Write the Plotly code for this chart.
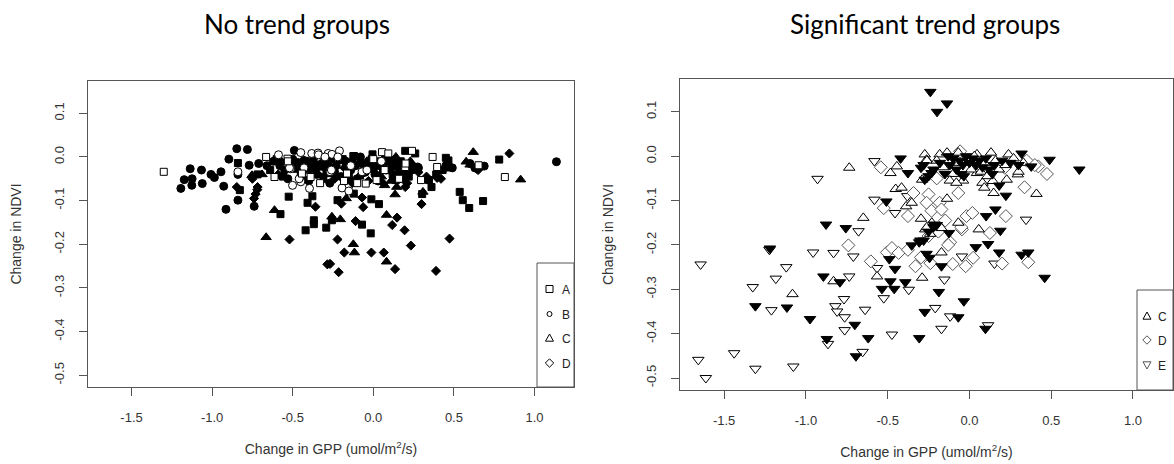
import plotly.graph_objects as go

W, H = 1174, 464

# ---------------- DATA : left panel "No trend groups" ----------------
# A : squares (open / filled)
left_A_open_x = [-1.30, -0.665, -0.613, -0.532, -0.389, -0.443, -0.182, -0.163, 0.054, 0.093, 0.240, 0.198,
                 0.296, 0.368, 0.396, 0.816, 0.653, 0.02, -0.047, -0.53, -0.10, 0.00, 0.07, 0.16, 0.20, -0.33]
left_A_open_y = [-0.034, 0.0, -0.046, -0.004, -0.046, -0.038, -0.055, -0.038, 0.011, 0.008, 0.014, -0.023,
                 -0.053, 0.0, -0.023, -0.046, -0.019, -0.053, -0.061, -0.01, -0.06, -0.005, -0.03, -0.05, -0.015, -0.06]
left_A_fill_x = [-0.840, -0.828, -0.718, -0.576, -0.525, -0.420, -0.408, -0.378, -0.369, -0.369, -0.292, -0.257,
                 -0.222, -0.121, -0.070, -0.016, -0.012, 0.035, 0.198, 0.303, 0.345, 0.361, 0.450, 0.466, 0.536,
                 0.555, 0.595, 0.681, 0.781, -0.124, -0.005, 0.163, 0.140,
                 -0.60, -0.52, -0.45, -0.37, -0.31, -0.25, -0.19, -0.15, -0.12, -0.06, -0.01, 0.02, 0.06, 0.09,
                 0.12, 0.17, 0.22, 0.26, -0.64, -0.56, 0.43, 0.39,
                 -0.48, -0.40, -0.28, -0.17, -0.08, 0.04, 0.14, 0.24]
left_A_fill_y = [-0.014, -0.076, -0.040, -0.131, -0.091, -0.168, -0.105, -0.090, -0.145, -0.154, -0.162, -0.145,
                 -0.099, -0.084, -0.155, -0.175, -0.097, -0.108, 0.014, -0.085, -0.053, -0.069, -0.002, -0.008, -0.080,
                 -0.099, -0.117, -0.101, -0.006, 0.002, 0.006, -0.023, -0.053,
                 -0.005, -0.015, -0.040, -0.005, -0.045, -0.025, -0.005, -0.050, 0.002, -0.025, -0.005, -0.045, -0.030, 0.0,
                 -0.040, -0.010, -0.045, 0.008, -0.030, -0.045, -0.030, -0.040,
                 -0.012, -0.028, -0.015, -0.022, -0.012, -0.010, -0.020, -0.022]
# B : circles (open / filled)
left_B_open_x = [-0.588, -0.45, -0.382, -0.343, -0.28, -0.21, -0.257, -0.501, -0.45, -0.396, -0.84, -0.513,
                 -0.194, -0.152, -0.07, -0.268, -0.34, -0.30, -0.26, -0.22, -0.14, -0.04, 0.05, -0.43, -0.52, -0.46]
left_B_open_y = [0.005, 0.01, 0.008, 0.009, 0.008, 0.014, 0.006, -0.065, -0.057, -0.072, -0.034, -0.027,
                 -0.071, -0.078, -0.034, -0.034, 0.005, 0.0, -0.03, 0.0, -0.02, -0.03, -0.01, -0.025, -0.025, -0.05]
left_B_fill_x = [-1.194, -1.173, -1.136, -1.124, -1.126, -1.066, -1.061, -1.007, -0.986, -0.945, -0.928, -0.914,
                 -0.896, -0.847, -0.781, -0.770, -0.840, -0.739, -0.840, -0.711, -0.49, 1.136, 0.688, 0.275,
                 -0.62, -0.58, -0.55, -0.50, -0.47, -0.44, -0.41, -0.38, -0.35, -0.32, -0.29, -0.26, -0.23, -0.20,
                 -0.17, -0.14, -0.11, -0.08, -0.05, -0.02, 0.01, 0.04, 0.07, 0.10, 0.13, 0.16, 0.20, 0.24, -0.53,
                 -0.40, -0.27, -0.10, 0.03, 0.18, 0.45, 0.49, 0.60, 0.63,
                 -0.66, -0.43, -0.36, -0.24, -0.13, -0.03, 0.08, 0.12, 0.21, 0.28]
left_B_fill_y = [-0.072, -0.052, -0.027, -0.050, -0.065, -0.030, -0.061, -0.040, -0.047, -0.034, -0.067, -0.120,
                 -0.005, 0.019, 0.017, -0.019, -0.099, -0.113, -0.040, -0.015, 0.015, -0.011, -0.021, -0.023,
                 -0.010, -0.020, -0.030, -0.005, -0.020, -0.035, -0.010, -0.025, -0.040, -0.015, -0.030, -0.005, -0.020, -0.045,
                 -0.010, -0.030, -0.020, 0.0, -0.035, -0.015, -0.040, -0.020, -0.005, -0.030, -0.015, -0.040, -0.020, -0.030, -0.050,
                 -0.055, -0.060, -0.050, -0.055, -0.050, -0.020, -0.025, -0.015, -0.025,
                 -0.020, -0.008, -0.018, -0.035, -0.012, -0.025, -0.030, -0.008, -0.035, -0.025]
# C : triangles (filled)
left_C_fill_x = [-0.665, -0.753, -0.613, -0.310, -0.257, -0.205, -0.168, -0.124, -0.117, 0.082, 0.082, 0.135,
                 0.145, 0.308, 0.620, 0.576, 0.914, 0.466, 0.140, 0.070,
                 -0.57, -0.48, -0.42, -0.33, -0.28, -0.21, -0.16, -0.09, -0.04, 0.0, 0.05, 0.08, 0.11, 0.15, 0.19,
                 0.23, 0.45, 0.60, -0.69]
left_C_fill_y = [-0.184, -0.042, -0.122, -0.053, -0.137, -0.143, -0.095, -0.200, -0.219, -0.240, -0.133, -0.086,
                 -0.069, -0.080, 0.011, -0.011, -0.052, -0.027, 0.0, -0.065,
                 -0.010, -0.030, -0.015, -0.025, -0.040, -0.010, -0.035, -0.045, -0.010, -0.030, -0.045, -0.015, -0.055, -0.025, -0.035,
                 -0.010, -0.020, -0.018, -0.040]
# D : diamonds (filled)
left_D_fill_x = [-0.520, -0.359, -0.285, -0.268, -0.215, -0.222, -0.180, -0.110, -0.063, -0.070, -0.012, 0.065,
                 0.117, 0.147, 0.135, 0.194, 0.233, 0.299, 0.396, 0.389, 0.473, 0.844, 0.641, 0.198, -0.718,
                 -0.847, -0.198,
                 -0.59, -0.51, -0.43, -0.36, -0.30, -0.24, -0.18, -0.13, -0.07, -0.03, 0.02, 0.06, 0.10, 0.14,
                 0.21, 0.28, 0.33, 0.42, -0.75, -0.73, -0.74, -0.72, 0.65]
left_D_fill_y = [-0.189, -0.114, -0.246, -0.245, -0.264, -0.189, -0.219, -0.147, -0.115, -0.093, -0.219, -0.219,
                 -0.156, -0.139, -0.257, -0.168, -0.203, -0.108, -0.048, -0.261, -0.187, 0.008, -0.027, -0.069, -0.069,
                 -0.069, -0.107,
                 -0.040, -0.025, -0.050, -0.030, -0.005, -0.050, -0.025, -0.060, -0.040, -0.055, -0.020, -0.060, -0.010, -0.050,
                 -0.060, -0.035, -0.045, -0.050, -0.050, -0.085, -0.095, -0.075, -0.030]

# ---------------- DATA : right panel "Significant trend groups" ----------------
right_C_x = [-0.735, -1.082, -0.649, -0.831, -0.483, -0.444, -0.451, -0.415, -0.387, -0.353, -0.289, -0.296,
             -0.273, -0.262, -0.289, -0.182, -0.137, -0.068, 0.046, 0.132, 0.239, 0.046, 0.080, 0.091, 0.143,
             0.148, 0.228, 0.296, 0.410, -0.137, -0.171, -0.171, -0.068, 0.057, -0.565, -0.039,
             -0.26, -0.20, -0.16, -0.10, -0.07, -0.03, 0.01, 0.03, 0.07, 0.09, 0.11, 0.16, 0.18, 0.22, 0.27,
             0.30, 0.33, -0.12, -0.08, -0.27, -0.24, -0.23, -0.26]
right_C_y = [-0.026, -0.311, -0.139, -0.282, -0.038, -0.023, -0.074, -0.071, -0.113, -0.105, -0.274, -0.141,
             0.004, -0.008, -0.053, 0.004, 0.008, 0.008, 0.004, 0.008, 0.004, -0.038, -0.060, -0.071, -0.056,
             -0.083, -0.053, -0.041, -0.085, -0.096, -0.162, -0.217, -0.150, -0.165, -0.271, -0.055,
             -0.010, -0.010, -0.025, -0.040, -0.015, -0.010, -0.030, 0.0, -0.035, -0.015, -0.045, -0.010, -0.030, -0.020, -0.005,
             -0.035, -0.015, -0.055, -0.060, -0.165, -0.175, -0.150, -0.160]
right_D_x = [-0.542, -0.740, -0.603, -0.524, -0.505, -0.474, -0.433, -0.376, -0.342, -0.376, -0.330, -0.296,
             -0.250, -0.262, -0.232, -0.239, -0.182, -0.171, -0.148, -0.118, -0.102, -0.068, -0.046, -0.023,
             -0.018, 0.018, 0.023, 0.125, 0.200, 0.223, 0.216, 0.337, 0.360, 0.421, 0.474, -0.057,
             -0.25, -0.19, -0.13, -0.05, 0.35, 0.40, -0.20]
right_D_y = [-0.025, -0.201, -0.237, -0.117, -0.217, -0.207, -0.218, -0.211, -0.083, -0.135, -0.248, -0.228,
             -0.086, -0.105, -0.123, -0.241, -0.105, -0.120, -0.145, -0.194, -0.243, -0.083, -0.165, -0.248,
             -0.135, -0.128, -0.229, -0.173, -0.242, -0.135, -0.026, -0.070, -0.239, -0.023, -0.040, 0.011,
             -0.180, -0.170, -0.200, -0.160, -0.010, -0.020, -0.050]
right_E_open_x = [-1.644, -1.658, -1.612, -1.439, -1.309, -1.325, -1.211, -1.184, -1.120, -1.077, -1.223, -0.929,
                  -0.956, -0.865, -0.831, -0.820, -0.809, -0.767, -0.763, -0.763, -0.735, -0.710, -0.678, -0.653,
                  -0.638, -0.581, -0.581, -0.565, -0.524, -0.474, -0.455, -0.371, -0.380, -0.209, -0.171, -0.153,
                  -0.118, 0.114, 0.153, 0.346, -0.046]
right_E_open_y = [-0.244, -0.459, -0.500, -0.444, -0.479, -0.295, -0.347, -0.276, -0.250, -0.474, -0.211, -0.051,
                  -0.217, -0.423, -0.218, -0.338, -0.350, -0.322, -0.363, -0.392, -0.271, -0.226, -0.169, -0.441,
                  -0.346, -0.098, -0.011, -0.252, -0.320, -0.402, -0.128, -0.301, -0.090, -0.342, -0.389, -0.278,
                  -0.361, -0.381, -0.242, -0.143, -0.226]
right_E_fill_x = [-0.239, -0.198, -0.137, -0.421, -0.376, -0.296, -0.273, -0.232, -0.034, 0.319, 0.378, 0.490,
                  0.672, 0.182, 0.223, 0.159, 0.102, 0.189, 0.114, 0.039, 0.182, 0.319, 0.360, 0.460, -0.034,
                  -0.068, 0.098, -0.187, -0.273, -0.307, -0.171, -0.244, -0.262, -0.125, -0.216, -0.307, -0.353,
                  -0.392, -0.460, -0.483, -0.535, -0.490, -0.455, -0.508, -0.619, -0.701, -0.694, -0.872, -0.893,
                  -0.792, -0.877, -0.756, -0.975, -1.116, -1.309, -1.220,
                  -0.28, -0.22, -0.18, -0.15, -0.12, -0.10, -0.08, -0.06, -0.04, -0.02, 0.0, 0.02, 0.04, 0.06,
                  0.08, 0.10, 0.12, 0.15, 0.20, 0.25, 0.30, -0.25, -0.05, 0.14, -0.13,
                  -0.30, -0.28, -0.25, -0.22, -0.20]
right_E_fill_y = [0.145, 0.100, 0.119, -0.005, -0.038, -0.026, -0.053, -0.038, -0.045, 0.006, -0.023, -0.008,
                  -0.030, -0.066, -0.089, -0.120, -0.135, -0.168, -0.198, -0.205, -0.217, -0.222, -0.217, -0.274, -0.327,
                  -0.363, -0.389, -0.306, -0.351, -0.410, -0.248, -0.229, -0.220, -0.173, -0.154, -0.194, -0.201,
                  -0.284, -0.299, -0.282, -0.299, -0.232, -0.254, -0.102, -0.410, -0.380, -0.451, -0.412, -0.271,
                  -0.284, -0.154, -0.162, -0.367, -0.341, -0.338, -0.208,
                  -0.020, -0.030, -0.015, -0.040, -0.020, -0.005, -0.030, -0.010, -0.020, 0.0, -0.015, -0.005, -0.020, -0.010,
                  -0.025, -0.005, -0.030, -0.020, -0.010, -0.015, -0.020, -0.045, -0.040, -0.040, 0.0,
                  -0.190, -0.190, -0.170, -0.160, -0.155]

x_ticks = [-1.5, -1.0, -0.5, 0.0, 0.5, 1.0]
x_tick_labels = ["-1.5", "-1.0", "-0.5", "0.0", "0.5", "1.0"]
y_ticks = [-0.5, -0.4, -0.3, -0.2, -0.1, 0.0, 0.1]
y_tick_labels = ["-0.5", "-0.4", "-0.3", "-0.2", "-0.1", "0.0", "0.1"]
left_legend_labels = ["A", "B", "C", "D"]
right_legend_labels = ["C", "D", "E"]
panel_titles = ["No trend groups", "Significant trend groups"]
x_title = "Change in GPP (umol/m<sup>2</sup>/s)"
y_title = "Change in NDVI"

# ---------------- FIGURE ----------------
def px(x):
    return x / W

def py(y):
    return 1 - y / H

fig = go.Figure()

def add(xs, ys, symbol, size, fill, line, axis, name):
    fig.add_trace(go.Scatter(
        x=xs, y=ys, mode="markers", name=name, showlegend=False,
        xaxis="x" if axis == 1 else "x2", yaxis="y" if axis == 1 else "y2",
        marker=dict(symbol=symbol, size=size, color=fill, line=dict(color=line, width=1)),
        hoverinfo="x+y+name"))

# left panel
add(left_B_fill_x, left_B_fill_y, "circle", 8, "black", "black", 1, "B")
add(left_A_fill_x, left_A_fill_y, "square", 7, "black", "black", 1, "A")
add(left_C_fill_x, left_C_fill_y, "triangle-up", 9, "black", "black", 1, "C")
add(left_D_fill_x, left_D_fill_y, "diamond", 7, "black", "black", 1, "D")
add(left_B_open_x, left_B_open_y, "circle", 8, "white", "black", 1, "B")
add(left_A_open_x, left_A_open_y, "square", 7, "white", "black", 1, "A")
# right panel
add(right_E_open_x, right_E_open_y, "triangle-down", 10, "white", "black", 2, "E")
add(right_D_x, right_D_y, "diamond", 10, "white", "#555555", 2, "D")
add(right_C_x, right_C_y, "triangle-up", 10, "white", "black", 2, "C")
add(right_E_fill_x, right_E_fill_y, "triangle-down", 10, "black", "black", 2, "E")

axis_common = dict(showline=True, mirror=True, linecolor="#555555", linewidth=1, ticks="outside",
                   ticklen=8, tickcolor="#555555", showgrid=False, zeroline=False,
                   tickfont=dict(family="Liberation Sans, Arial, sans-serif", size=13, color="#333333"),
                   ticklabelstandoff=10)
xr = [-1.77, 1.245]
yr = [-0.527, 0.174]

L = dict(x0=88, x1=574, y0=81, y1=387)
R = dict(x0=680, x1=1173, y0=79, y1=390)

title_font = dict(family="Liberation Sans, Arial, sans-serif", size=14, color="#333333")

fig.update_layout(
    width=W, height=H, margin=dict(l=0, r=0, t=0, b=0),
    paper_bgcolor="white", plot_bgcolor="white",
    xaxis=dict(domain=[px(L["x0"]), px(L["x1"])], range=xr, tickvals=x_ticks, ticktext=x_tick_labels,
               anchor="y", title=dict(text=x_title, font=title_font, standoff=20), **axis_common),
    yaxis=dict(domain=[py(L["y1"]), py(L["y0"])], range=yr, tickvals=y_ticks, ticktext=y_tick_labels,
               anchor="x", tickangle=-90, title=dict(text=y_title, font=title_font, standoff=26), **axis_common),
    xaxis2=dict(domain=[px(R["x0"]), px(R["x1"])], range=xr, tickvals=x_ticks, ticktext=x_tick_labels,
                anchor="y2", title=dict(text=x_title, font=title_font, standoff=20), **axis_common),
    yaxis2=dict(domain=[py(R["y1"]), py(R["y0"])], range=yr, tickvals=y_ticks, ticktext=y_tick_labels,
                anchor="x2", tickangle=-90, title=dict(text=y_title, font=title_font, standoff=26), **axis_common),
)

# panel titles
for t, cx in zip(panel_titles, [297, 925]):
    fig.add_annotation(text=t, x=px(cx), y=py(24), xref="paper", yref="paper", showarrow=False,
                       xanchor="center", yanchor="middle",
                       font=dict(family="Lato, Open Sans, sans-serif", size=26, color="black", weight=400))

# legends (boxes, symbols, labels)
def legend_box(x0, y0, x1, y1):
    fig.add_shape(type="rect", xref="paper", yref="paper", x0=px(x0), x1=px(x1), y0=py(y1), y1=py(y0),
                  line=dict(color="#555555", width=1), fillcolor="white", layer="above")

def sym(kind, cx, cy, s, color="black"):
    if kind == "square":
        fig.add_shape(type="rect", xref="paper", yref="paper", x0=px(cx - s), x1=px(cx + s),
                      y0=py(cy + s), y1=py(cy - s), line=dict(color=color, width=1), layer="above")
    elif kind == "circle":
        fig.add_shape(type="circle", xref="paper", yref="paper", x0=px(cx - s), x1=px(cx + s),
                      y0=py(cy + s), y1=py(cy - s), line=dict(color=color, width=1), layer="above")
    else:
        if kind == "up":
            pts = [(cx, cy - s), (cx + s, cy + s * 0.8), (cx - s, cy + s * 0.8)]
        elif kind == "down":
            pts = [(cx, cy + s), (cx + s, cy - s * 0.8), (cx - s, cy - s * 0.8)]
        else:
            pts = [(cx, cy - s * 1.2), (cx + s * 1.2, cy), (cx, cy + s * 1.2), (cx - s * 1.2, cy)]
        path = "M " + " L ".join(f"{px(a):.5f},{py(b):.5f}" for a, b in pts) + " Z"
        fig.add_shape(type="path", xref="paper", yref="paper", path=path,
                      line=dict(color=color, width=1), layer="above")

legend_font = dict(family="Liberation Sans, Arial, sans-serif", size=12, color="#222222")

legend_box(537, 263, 574, 387)
for lab, kind, cy, s in zip(left_legend_labels, ["square", "circle", "up", "diamond"],
                            [289, 314, 338, 363], [3.5, 2.5, 4, 3.5]):
    sym(kind, 549.5, cy, s)
    fig.add_annotation(text=lab, x=px(560), y=py(cy + 1), xref="paper", yref="paper", showarrow=False,
                       xanchor="left", yanchor="middle", font=legend_font)

legend_box(1137, 290, 1173, 390)
for lab, kind, cy, s, col in zip(right_legend_labels, ["up", "diamond", "down"],
                                 [316, 340, 365], [4, 3.5, 4], ["black", "#555555", "#555555"]):
    sym(kind, 1147, cy, s, col)
    fig.add_annotation(text=lab, x=px(1156), y=py(cy + 1), xref="paper", yref="paper", showarrow=False,
                       xanchor="left", yanchor="middle", font=legend_font)

fig.write_html("out.html")
